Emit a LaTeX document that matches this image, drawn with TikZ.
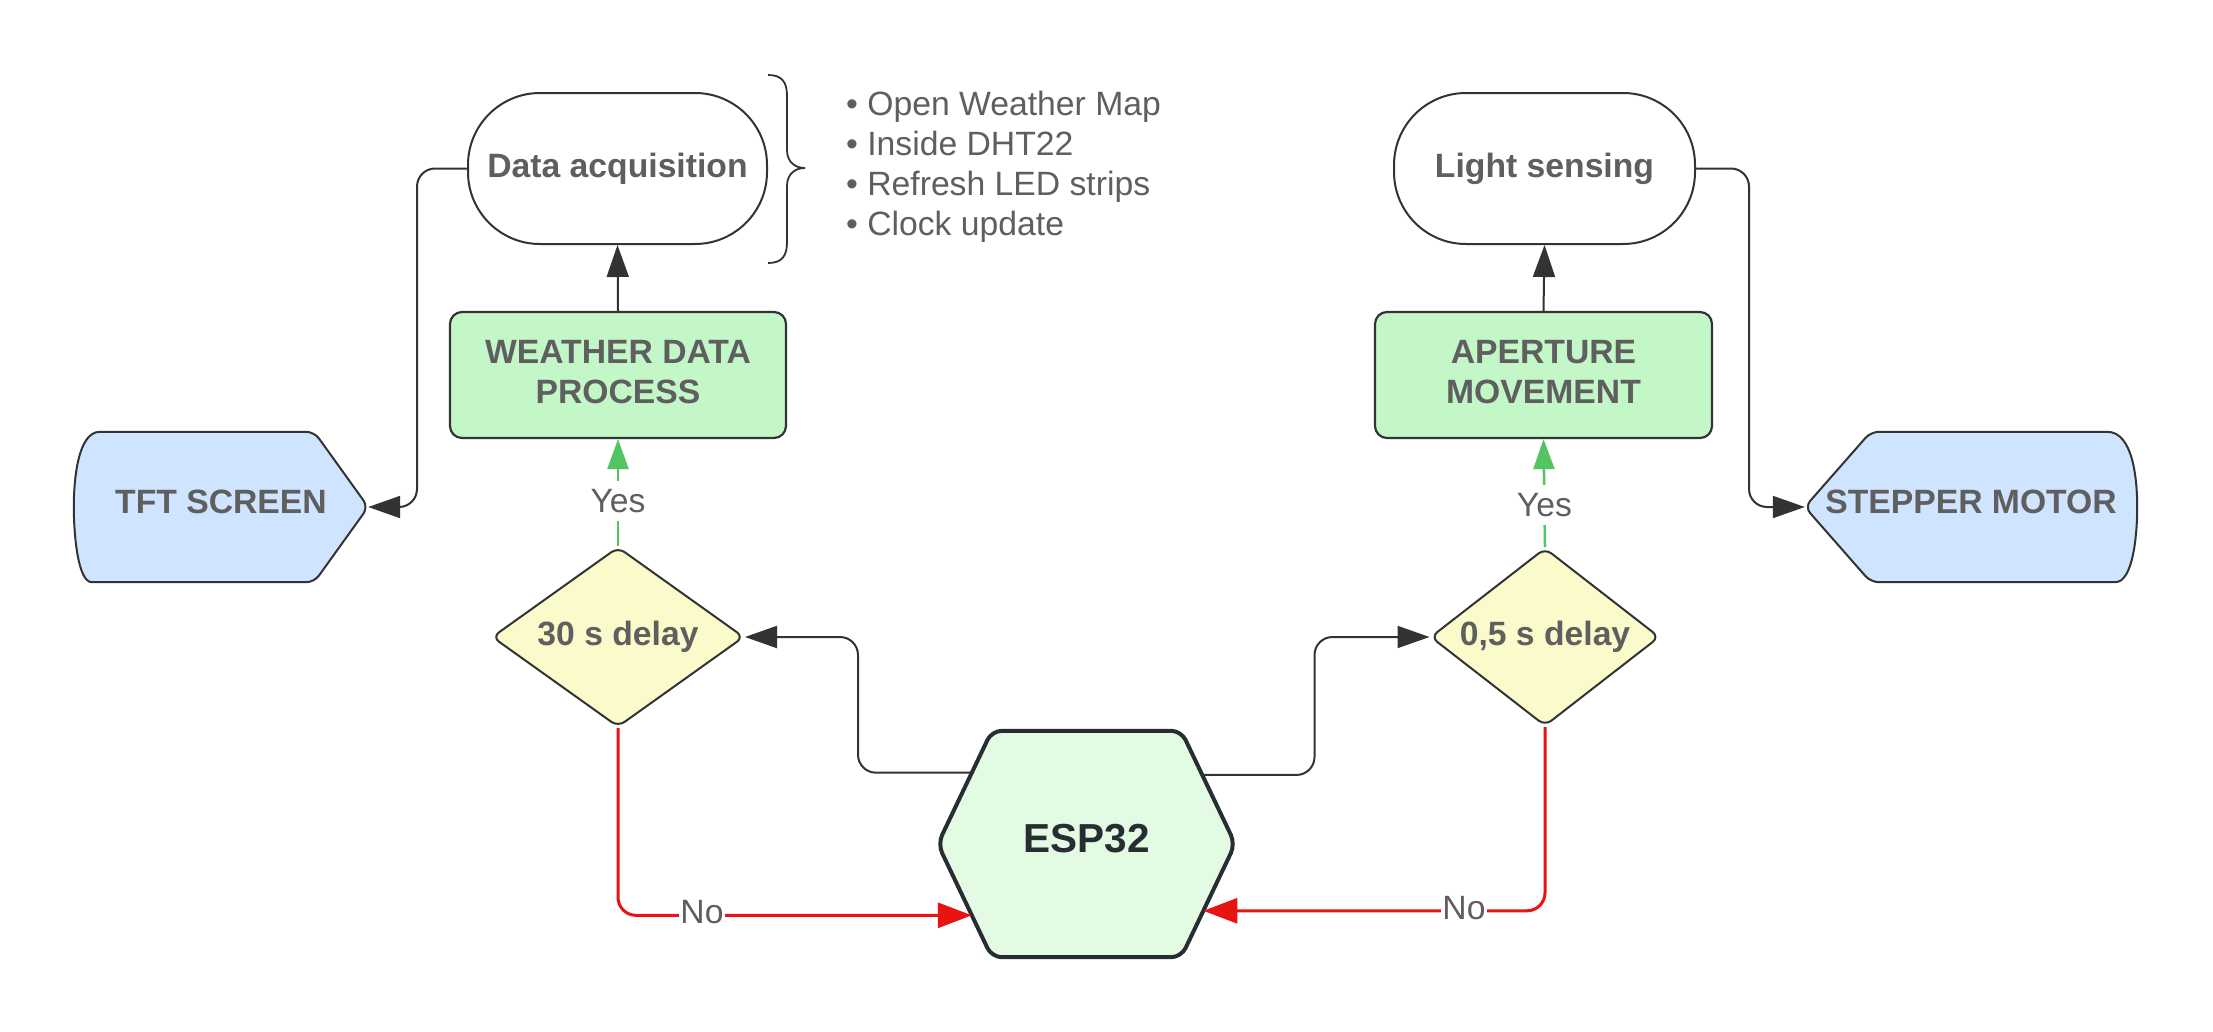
\documentclass[tikz,border=0pt]{standalone}
\usepackage{fontspec}
\setmainfont{Liberation Sans}
\usetikzlibrary{arrows.meta,shapes.geometric,calc}
\pgfdeclarelayer{bg}
\pgfdeclarelayer{background}
\pgfsetlayers{bg,background,main}
\definecolor{txtc}{HTML}{5F5F5F}
\definecolor{espc}{HTML}{282C33}
\definecolor{strokec}{HTML}{333333}
\definecolor{boxgreen}{HTML}{C3F7C8}
\definecolor{espfill}{HTML}{E2FBE2}
\definecolor{bluefill}{HTML}{CFE4FF}
\definecolor{yelfill}{HTML}{FBFACA}
\definecolor{redc}{HTML}{E81313}
\definecolor{greenc}{HTML}{53C462}
\newcommand{\lowstrut}{\rule[-6pt]{0pt}{1pt}}
\begin{document}
\begin{tikzpicture}[x=1pt,y=-1pt,
  bold/.style={font=\fontsize{33.7}{40}\selectfont\bfseries, text=txtc},
  reg/.style={font=\fontsize{33.7}{40}\selectfont, text=txtc},
  stadium/.style={bold, rectangle, draw=strokec, line width=2pt, fill=white,
    rounded corners=72pt, minimum width=299pt, minimum height=151pt, inner sep=0pt},
  procbox/.style={bold, rectangle, draw=strokec, line width=2.2pt, fill=boxgreen,
    rounded corners=12pt, minimum width=336pt, minimum height=126pt, align=center, inner sep=0pt},
  decision/.style={bold, diamond, draw=strokec, line width=2pt, fill=yelfill,
    rounded corners=8pt, inner sep=0pt},
  ioshape/.style={draw=strokec, line width=2pt, fill=bluefill},
  ghost/.style={bold, rectangle, draw=none, inner sep=0pt, minimum height=150pt, text depth=11pt},
  conn/.style={draw=strokec, line width=2pt, rounded corners=18pt,
    -{Triangle[length=32pt,width=22pt]}},
  yesconn/.style={draw=greenc, line width=2.5pt,
    -{Triangle[length=30pt,width=21pt]}},
  noconn/.style={draw=redc, line width=3pt, rounded corners=18pt,
    -{Triangle[length=34pt,width=25pt]}},
  lbl/.style={reg, fill=white, inner xsep=1pt, inner ysep=8pt},
  bullet/.style={reg, anchor=base west, inner sep=0pt}
]
\useasboundingbox (0,0) rectangle (2213,1031);
\begin{pgfonlayer}{bg}
  \fill[white] (0,0) rectangle (2213,1031);
\end{pgfonlayer}

% nodes
\node[stadium] (dacq) at (617.5,168.5) {Data acquisition};
\node[stadium, minimum width=301pt] (light) at (1544.5,168.5) {Light sensing};
\node[procbox] (wdp) at (618,375) {WEATHER DATA\\PROCESS\lowstrut};
\node[procbox, minimum width=337pt] (aper) at (1543.5,375) {APERTURE\\MOVEMENT\lowstrut};
\node[decision, aspect=1.4, minimum width=252pt, minimum height=180pt] (d30) at (618,637) {30 s delay};
\node[decision, aspect=1.29, minimum width=229pt, minimum height=178pt] (d05) at (1545,637) {0,5 s delay};
\node[ghost, minimum width=294pt] (tft) at (221,507) {TFT SCREEN};
\node[ghost, minimum width=332pt] (step) at (1971,507) {STEPPER MOTOR};
\node[rectangle, draw=none, inner sep=0pt, minimum width=297pt, minimum height=226pt, text depth=12pt,
      font=\fontsize{40.5}{48}\selectfont\bfseries, text=espc] (esp) at (1086.5,844) {ESP32};

% hexagon corner and port coordinates
\coordinate (espTL) at ($(esp.north west)+(54,0)$);
\coordinate (espTR) at ($(esp.north east)+(-54,0)$);
\coordinate (espBL) at ($(esp.south west)+(54,0)$);
\coordinate (espBR) at ($(esp.south east)+(-54,0)$);
\coordinate (espUL) at ($(esp.west)!0.63!(espTL)$);
\coordinate (espLL) at ($(esp.west)!0.63!(espBL)$);
\coordinate (espUR) at ($(esp.east)!0.61!(espTR)$);
\coordinate (espLR) at ($(esp.east)!0.59!(espBR)$);

\begin{pgfonlayer}{background}
  % ESP32 hexagon
  \draw[draw=espc, line width=4pt, fill=espfill, rounded corners=10pt]
    (esp.west) -- (espTL) -- (espTR) -- (esp.east) -- (espBR) -- (espBL) -- cycle;
  % TFT screen
  \draw[ioshape]
    ($(tft.north west)+(26,0)$) [rounded corners=8pt] -- ($(tft.north east)+(-54,0)$)
    -- (tft.east) -- ($(tft.south east)+(-54,0)$) -- ($(tft.south west)+(26,0)$) [sharp corners]
    .. controls ($(tft.south west)+(4,0)$) and ($(tft.west)+(0,27)$) .. (tft.west)
    .. controls ($(tft.west)+(0,-27)$) and ($(tft.north west)+(4,0)$) .. ($(tft.north west)+(26,0)$) -- cycle;
  % Stepper motor
  \draw[ioshape]
    ($(step.north east)+(-30,0)$) [rounded corners=8pt] -- ($(step.north west)+(66,0)$)
    -- (step.west) -- ($(step.south west)+(66,0)$) -- ($(step.south east)+(-30,0)$) [sharp corners]
    .. controls ($(step.south east)+(-4,0)$) and ($(step.east)+(0,27)$) .. (step.east)
    .. controls ($(step.east)+(0,-27)$) and ($(step.north east)+(-4,0)$) .. ($(step.north east)+(-30,0)$) -- cycle;
\end{pgfonlayer}

% brace
\draw[strokec, line width=1.8pt]
  (768,75) .. controls (782,75) and (787,82) .. (787,96) -- (787,150)
  .. controls (787,162) and (795,168) .. (805,168)
  .. controls (795,168) and (787,174) .. (787,186) -- (787,242)
  .. controls (787,256) and (782,263) .. (768,263);

% bullet list
\node[bullet] (b1) at (846,115) {• Open Weather Map};
\node[bullet] (b2) at (846,155) {• Inside DHT22};
\node[bullet] (b3) at (846,195) {• Refresh LED strips};
\node[bullet] (b4) at (846,235) {• Clock update};

% connectors
\draw[conn] (wdp.north) -- (dacq.south);
\draw[conn] (aper.north) -- (light.south);
\draw[conn] (dacq.west) -- ++(-50,0) |- (tft.east);
\draw[conn] (light.east) -- ++(53,0) |- (step.west);
\draw[conn] (espUL) -| ($(d30.east)+(113,0)$) -- (d30.east);
\draw[conn] (espUR) -| ($(d05.west)+(-115,0)$) -- (d05.west);

\draw[yesconn] (d30.north) -- node[lbl, pos=0.42] {Yes} (wdp.south);
\draw[yesconn] (d05.north) -- node[lbl, pos=0.39] {Yes} (aper.south);

\draw[noconn] (d30.south) |- (espLL);
\node[lbl, yshift=3pt] (noL) at ($(d30.south |- espLL)+(84,0)$) {No};
\draw[noconn] (d05.south) |- (espLR);
\node[lbl, yshift=3pt] (noR) at ($(d05.south |- espLR)+(-81,0)$) {No};
\end{tikzpicture}
\end{document}
